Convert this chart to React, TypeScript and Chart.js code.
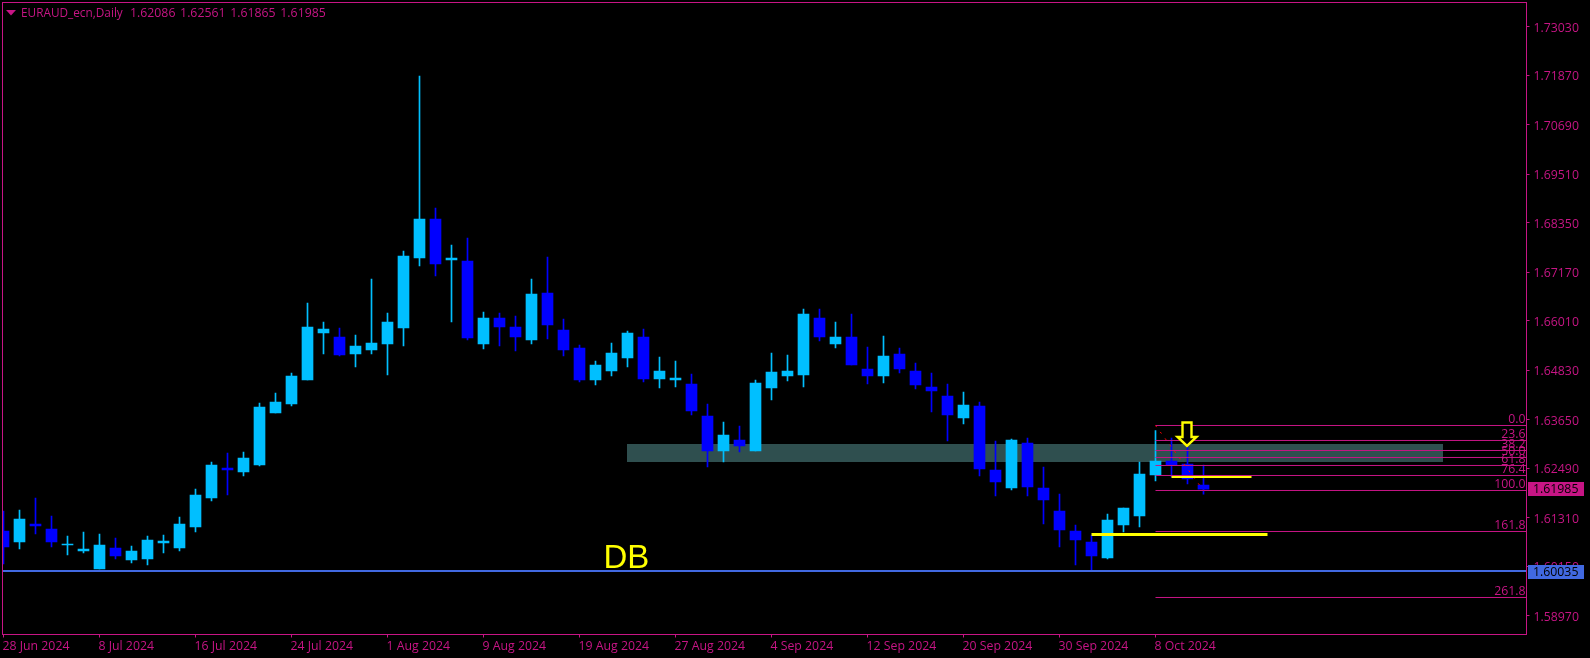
import React, { useEffect, useRef } from "react";
import { Chart, registerables } from "chart.js";

Chart.register(...registerables);

const dateLabels = ["28 Jun 2024","8 Jul 2024","16 Jul 2024","24 Jul 2024","1 Aug 2024","9 Aug 2024","19 Aug 2024","27 Aug 2024","4 Sep 2024","12 Sep 2024","20 Sep 2024","30 Sep 2024","8 Oct 2024"];
const labelEvery = 6;
const priceTicks = [1.7303,1.7187,1.7069,1.6951,1.6835,1.6717,1.6601,1.6483,1.6365,1.6249,1.6131,1.6015,1.5897];

const opens = [1.60988,1.60725,1.61154,1.61035,1.60654,1.60510,1.60080,1.60582,1.60295,1.60319,1.60701,1.60582,1.61083,1.61776,1.62492,1.62396,1.62564,1.63805,1.64020,1.64593,1.65715,1.65620,1.65214,1.65310,1.65452,1.65835,1.67506,1.68437,1.67459,1.67435,1.65452,1.66074,1.65859,1.65548,1.66670,1.65787,1.65357,1.64593,1.64808,1.65119,1.65620,1.64617,1.64593,1.64497,1.63734,1.62898,1.63161,1.62898,1.64402,1.64689,1.64713,1.66074,1.65452,1.65620,1.64856,1.64689,1.65214,1.64808,1.64426,1.64211,1.63686,1.63973,1.62444,1.62014,1.63089,1.62014,1.61465,1.60988,1.60725,1.60343,1.61131,1.61346,1.62325,1.62659,1.62587,1.62086];
const highs = [1.61465,1.61489,1.61776,1.61346,1.60869,1.60964,1.60916,1.60821,1.60630,1.60869,1.60893,1.61322,1.61990,1.62635,1.62850,1.62874,1.64044,1.64282,1.64760,1.66431,1.65978,1.65835,1.65668,1.67005,1.66193,1.67673,1.71852,1.68700,1.67817,1.67984,1.66217,1.66193,1.66122,1.67005,1.67530,1.66050,1.65429,1.65047,1.65476,1.65763,1.65811,1.65143,1.65047,1.64736,1.64020,1.63590,1.63495,1.64593,1.65238,1.65191,1.66288,1.66288,1.65978,1.66169,1.65381,1.65644,1.65357,1.64999,1.64760,1.64497,1.64306,1.64068,1.63137,1.63185,1.63209,1.62516,1.61871,1.61131,1.60893,1.61393,1.61537,1.62635,1.63386,1.63209,1.62994,1.62561];
const lows = [1.60199,1.60558,1.60916,1.60606,1.60415,1.60462,1.60080,1.60319,1.60223,1.60176,1.60462,1.60510,1.60964,1.61704,1.61847,1.62301,1.62540,1.63805,1.63973,1.64593,1.65214,1.65167,1.64904,1.65214,1.64713,1.65405,1.67315,1.67077,1.65978,1.65548,1.65333,1.65405,1.65286,1.65452,1.65572,1.65167,1.64545,1.64474,1.64689,1.64904,1.64545,1.64402,1.64426,1.63758,1.62516,1.62635,1.62874,1.62898,1.64116,1.64569,1.64426,1.65524,1.65357,1.64952,1.64497,1.64521,1.64760,1.64378,1.63829,1.63137,1.63542,1.62301,1.61824,1.61967,1.61824,1.61154,1.60606,1.60176,1.60056,1.60319,1.60964,1.61083,1.62182,1.62277,1.62109,1.61865];
const closes = [1.60606,1.61274,1.61107,1.60725,1.60677,1.60558,1.60654,1.60391,1.60510,1.60773,1.60749,1.61154,1.61847,1.62564,1.62444,1.62731,1.63949,1.64068,1.64689,1.65859,1.65811,1.65191,1.65405,1.65476,1.65978,1.67554,1.68437,1.67363,1.67506,1.65596,1.66074,1.65859,1.65620,1.66646,1.65907,1.65310,1.64593,1.64952,1.65238,1.65715,1.64617,1.64808,1.64641,1.63853,1.62898,1.63280,1.63017,1.64521,1.64784,1.64808,1.66169,1.65620,1.65620,1.64952,1.64689,1.65167,1.64856,1.64474,1.64330,1.63758,1.63997,1.62468,1.62157,1.63161,1.62038,1.61728,1.61012,1.60773,1.60391,1.61250,1.61537,1.62348,1.62659,1.62564,1.62229,1.61985];

const fibLabels = ["0.0","23.6","38.2","50.0","61.8","76.4","100.0","161.8","261.8"];
const fibPrices = [1.63507,1.63149,1.6291,1.62743,1.62552,1.62313,1.61955,1.60976,1.594];
const fibStartBar = 72;
const supportPrice = 1.60035;
const lastPrice = 1.61985;
const zone = { from: 39, to: 90, top: 1.63065, bottom: 1.62635 };
const yellowLines = [
  { from: 68, to: 79, price: 1.60904, width: 3 },
  { from: 73, to: 78, price: 1.62277, width: 2 },
];
const trendLine = [{ x: 72, y: 1.63507 }, { x: 75, y: 1.61955 }];
const arrowAnchor = { x: 74, y: 1.62994 };
const dbLabel = { x: 37.5, y: 1.60104, text: "DB" };
const titleName = "EURAUD_ecn,Daily";
const titleValues = "1.62086 1.62561 1.61865 1.61985";

const PINK = "#C71585";
const UP = "#00BFFF";
const DOWN = "#0000FF";
const BLUE = "#4169E1";
const FONT_FAMILY = "Open Sans";
const FONT_SIZE = 12.3;
const FONT = `${FONT_SIZE}px "${FONT_FAMILY}"`;
const X_MIN = -0.0625;
const X_MAX = 95.1875;
const Y_MIN = 1.585162;
const Y_MAX = 1.736071;

const noPadding = (axis: any) => {
  axis.paddingTop = 0;
  axis.paddingBottom = 0;
};

const overlay = {
  id: "overlay",
  beforeDatasetsDraw(chart: any) {
    const { ctx, scales } = chart;
    const { x, y } = scales;
    ctx.save();
    ctx.fillStyle = "#2F4F4F";
    ctx.fillRect(
      x.getPixelForValue(zone.from) - 0.5,
      y.getPixelForValue(zone.top),
      x.getPixelForValue(zone.to) - x.getPixelForValue(zone.from),
      y.getPixelForValue(zone.bottom) - y.getPixelForValue(zone.top),
    );
    ctx.restore();
  },
  afterDatasetsDraw(chart: any) {
    const { ctx, scales, chartArea } = chart;
    const { x, y } = scales;
    ctx.save();
    ctx.font = FONT;
    ctx.fillStyle = PINK;
    ctx.textAlign = "right";
    ctx.textBaseline = "alphabetic";
    fibLabels.forEach((t, i) => ctx.fillText(t, chartArea.right - 1, y.getPixelForValue(fibPrices[i]) - 2.5));

    // arrow
    const ax = x.getPixelForValue(arrowAnchor.x) - 0.5;
    const ay = y.getPixelForValue(arrowAnchor.y);
    const shape = [[0,-1],[-9.5,-10],[-4.5,-10],[-4.5,-24.5],[4.5,-24.5],[4.5,-10],[9.5,-10]];
    ctx.beginPath();
    shape.forEach(([dx, dy], i) => (i ? ctx.lineTo(ax + dx, ay + dy) : ctx.moveTo(ax + dx, ay + dy)));
    ctx.closePath();
    ctx.fillStyle = "#000";
    ctx.fill();
    ctx.strokeStyle = "#FFFF00";
    ctx.lineWidth = 2.4;
    ctx.stroke();

    // DB
    ctx.font = '33px "Liberation Sans"';
    ctx.textAlign = "left";
    ctx.fillStyle = "#FFFF00";
    ctx.fillText(dbLabel.text, x.getPixelForValue(dbLabel.x), y.getPixelForValue(dbLabel.y));
    ctx.restore();
  },
  afterDraw(chart: any) {
    const { ctx, scales, chartArea } = chart;
    const { y } = scales;
    ctx.save();
    ctx.strokeStyle = PINK;
    ctx.lineWidth = 1;
    ctx.strokeRect(2.5, 2.5, chartArea.right - 2.5, chartArea.bottom - 2.5);

    // title
    ctx.fillStyle = PINK;
    ctx.beginPath();
    ctx.moveTo(6, 10);
    ctx.lineTo(16, 10);
    ctx.lineTo(11, 15.5);
    ctx.closePath();
    ctx.fill();
    ctx.textAlign = "left";
    ctx.textBaseline = "alphabetic";
    ctx.font = `11.8px "${FONT_FAMILY}"`;
    ctx.fillText(titleName, 21, 17);
    ctx.font = FONT;
    (ctx as any).wordSpacing = "1.5px";
    ctx.fillText(titleValues, 130, 17);
    (ctx as any).wordSpacing = "0px";

    // price boxes
    const box = (price: number, color: string, above: number) => {
      const py = Math.round(y.getPixelForValue(price));
      ctx.fillStyle = color;
      ctx.fillRect(1528, py - above, 56, 14);
      ctx.fillStyle = "#000";
      ctx.textBaseline = "middle";
      ctx.fillText(price.toFixed(5), 1533, py - above + 7.5);
    };
    box(supportPrice, BLUE, 6);
    box(lastPrice, PINK, 7);
    ctx.restore();
  },
};

export default function App() {
  const ref = useRef<HTMLCanvasElement>(null);
  useEffect(() => {
    const idx = opens.map((_, i) => i);
    const colors = idx.map((i) => (closes[i] >= opens[i] ? UP : DOWN));
    const hline = (from: number, to: number, price: number) => [{ x: from, y: price }, { x: to, y: price }];
    const lineBase = { type: "line", pointRadius: 0, tension: 0, fill: false };
    const chart = new Chart(ref.current as HTMLCanvasElement, {
      type: "bar",
      data: {
        datasets: [
          {
            label: "wick",
            order: 10,
            grouped: false,
            barThickness: 1,
            backgroundColor: colors,
            data: idx.map((i) => ({ x: i, y: [lows[i], highs[i]] })),
          },
          {
            label: "body",
            order: 9,
            grouped: false,
            barThickness: 11,
            backgroundColor: colors,
            data: idx.map((i) => ({ x: i, y: [Math.min(opens[i], closes[i]), Math.max(opens[i], closes[i])] })),
          },
          ...fibPrices.map((p, i) => ({
            ...lineBase,
            label: "fib " + fibLabels[i],
            order: 5,
            borderColor: PINK,
            borderWidth: 1,
            data: hline(fibStartBar, X_MAX, p),
          })),
          {
            ...lineBase,
            label: "fib trend",
            order: 4,
            borderColor: "#FF0000",
            borderWidth: 1,
            borderDash: [2, 6],
            data: trendLine,
          },
          ...yellowLines.map((l, i) => ({
            ...lineBase,
            label: "yellow " + i,
            order: 3,
            borderColor: "#FFFF00",
            borderWidth: l.width,
            data: hline(l.from, l.to, l.price),
          })),
          {
            ...lineBase,
            label: "support",
            order: 2,
            borderColor: BLUE,
            borderWidth: 2,
            data: hline(X_MIN, X_MAX, supportPrice),
          },
        ],
      },
      options: {
        responsive: false,
        animation: false,
        events: [],
        layout: { padding: { left: 2.5, top: 2.5, right: 0, bottom: 0 } },
        plugins: { legend: { display: false }, tooltip: { enabled: false }, title: { display: false } },
        scales: {
          x: {
            type: "linear",
            offset: false,
            min: X_MIN,
            max: X_MAX,
            border: { color: PINK },
            grid: { offset: false, drawOnChartArea: false, drawTicks: true, tickLength: 3, color: PINK },
            ticks: {
              autoSkip: false,
              maxRotation: 0,
              align: "start",
              padding: 2,
              labelOffset: -1,
              color: PINK,
              font: { family: FONT_FAMILY, size: FONT_SIZE },
              callback: (v: any) => dateLabels[Math.round(Number(v) / labelEvery)] ?? "",
            },
            afterBuildTicks: (axis: any) => {
              axis.ticks = dateLabels.map((_, i) => ({ value: i * labelEvery }));
            },
            afterFit: (axis: any) => {
              axis.height = 23.5;
            },
          },
          y: {
            position: "right",
            min: Y_MIN,
            max: Y_MAX,
            border: { color: PINK },
            grid: { drawOnChartArea: false, drawTicks: true, tickLength: 3, color: PINK },
            ticks: {
              autoSkip: false,
              padding: 4,
              labelOffset: 1.5,
              color: PINK,
              font: { family: FONT_FAMILY, size: FONT_SIZE },
              callback: (v: any) => Number(v).toFixed(5),
            },
            afterBuildTicks: (axis: any) => {
              axis.ticks = priceTicks.map((value) => ({ value }));
            },
            afterFit: (axis: any) => {
              axis.width = 63.5;
              noPadding(axis);
            },
          },
        },
      },
      plugins: [overlay],
    } as any);
    return () => chart.destroy();
  }, []);
  return (
    <div style={{ position: "fixed", left: 0, top: 0, width: 1590, height: 658, background: "#000" }}>
      <canvas ref={ref} width={1590} height={658} style={{ display: "block", width: 1590, height: 658 }} />
    </div>
  );
}
